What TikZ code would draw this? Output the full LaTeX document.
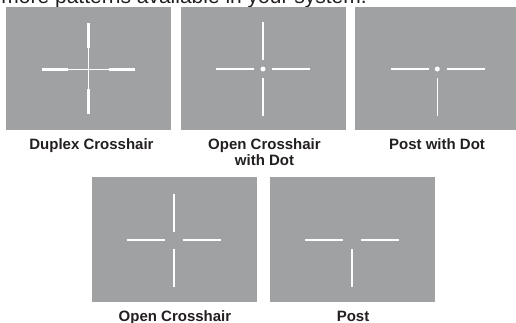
\documentclass[tikz,border=0pt]{standalone}
\usepackage{fontspec}
\setmainfont{Liberation Sans}
\definecolor{panel}{HTML}{A0A1A3}
\definecolor{ink}{HTML}{231F20}
\begin{document}
\begin{tikzpicture}[x=1pt,y=-1pt,
  panelbox/.style={fill=panel,draw=none},
  hair/.style={white,line width=1.5pt},
  thickhair/.style={white,line width=2.8pt},
  thinhair/.style={white,line width=0.9pt},
  aimdot/.style={fill=white,draw=none},
  caption/.style={font=\fontsize{15}{16.5}\selectfont\bfseries,text=ink,inner sep=0,anchor=base}]
\useasboundingbox (0,0) rectangle (516,322);
\clip (0,0) rectangle (516,322);
\node[anchor=base east,font=\fontsize{21}{24}\selectfont,text=ink,inner sep=0] (intro) at (367,3.5) {more patterns available in your system.};
% panels
\fill[panelbox] (6,7) rectangle (171,130);
\fill[panelbox] (181,7) rectangle (346,130);
\fill[panelbox] (355,7) rectangle (516,130);
\fill[panelbox] (92,177) rectangle (257,302);
\fill[panelbox] (270,177) rectangle (435,302);
% duplex
\draw[thinhair] (88.3,48) -- (88.3,90);
\draw[thinhair] (67,69.3) -- (110,69.3);
\draw[thickhair] (88.3,23.3) -- (88.3,48.3);
\draw[thickhair] (88.3,89) -- (88.3,114.3);
\draw[thickhair] (41.7,69.3) -- (68.3,69.3);
\draw[thickhair] (109.3,69.3) -- (135,69.3);
% open crosshair with dot
\draw[hair] (263,22.3) -- (263,60);
\draw[hair] (263,78.3) -- (263,116);
\draw[hair] (215.7,69) -- (254,69);
\draw[hair] (271.7,69) -- (310,69);
\fill[aimdot] (263,69) circle (2.5);
% post with dot
\draw[hair] (391,69) -- (429.3,69);
\draw[hair] (446.7,69) -- (485,69);
\draw[hair] (437.3,78.3) -- (437.3,116);
\fill[aimdot] (437.3,69) circle (2.5);
% open crosshair
\draw[hair] (174,194) -- (174,231.7);
\draw[hair] (174,249) -- (174,286.7);
\draw[hair] (126.7,240) -- (165,240);
\draw[hair] (182.7,240) -- (221,240);
% post
\draw[hair] (305,240) -- (343,240);
\draw[hair] (360.7,240) -- (399,240);
\draw[hair] (352,249) -- (352,286.7);
% captions
\node[caption] (c1) at (91.5,149.3) {Duplex Crosshair};
\node[caption] (c2a) at (264.5,149.3) {Open Crosshair};
\node[caption] (c2b) at (264.5,165.8) {with Dot};
\node[caption] (c3) at (437,149.3) {Post with Dot};
\node[caption] (c4) at (175,321.5) {Open Crosshair};
\node[caption] (c5) at (353,321.5) {Post};
\end{tikzpicture}
\end{document}
